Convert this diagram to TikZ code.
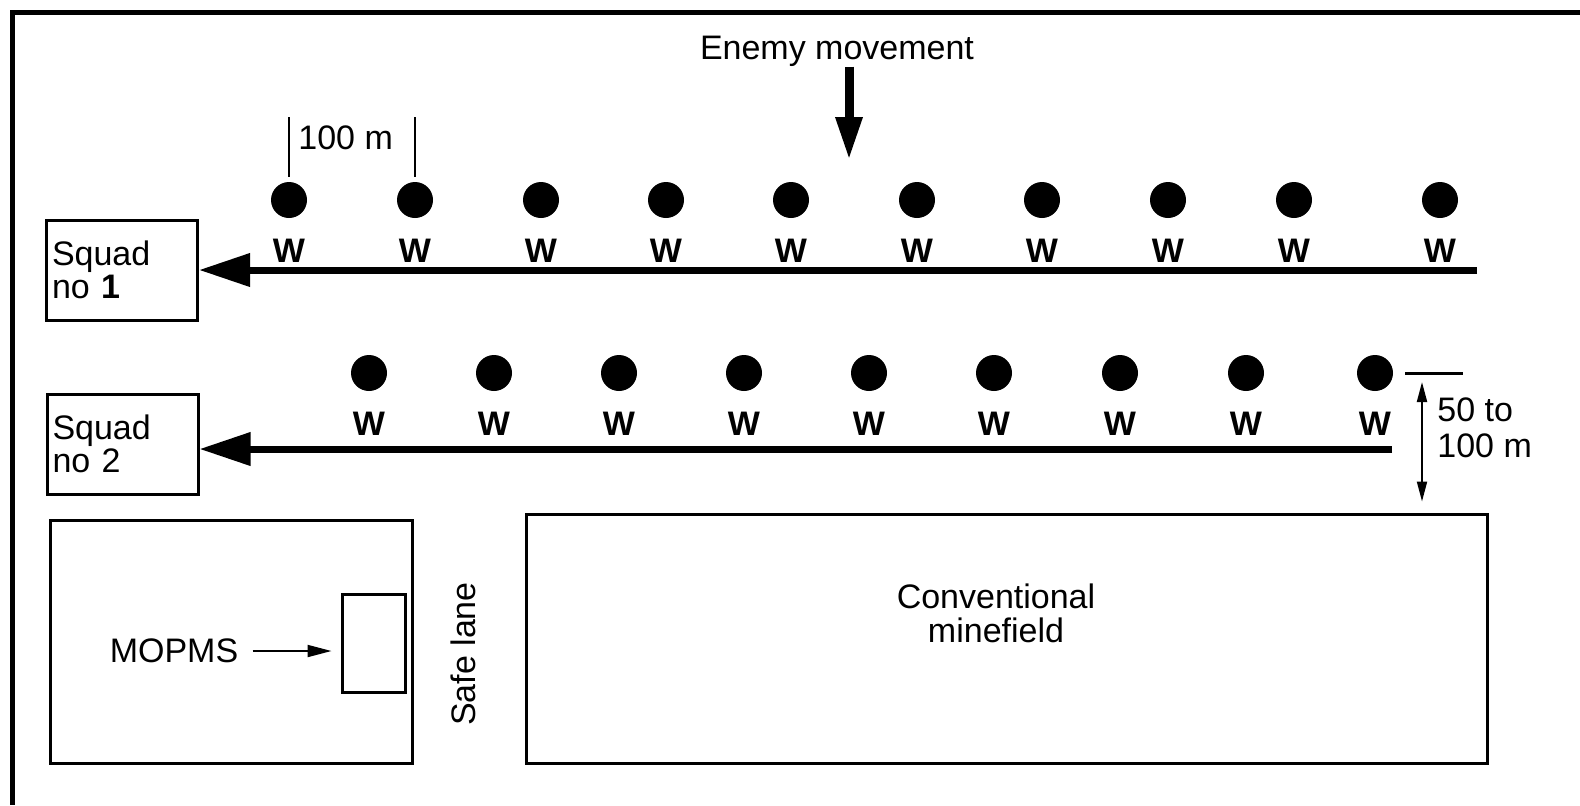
\documentclass[tikz,border=0pt]{standalone}
\usepackage{fontspec}
\setmainfont{Liberation Sans}
\usetikzlibrary{arrows.meta, positioning}

\begin{document}
\begin{tikzpicture}[x=0.5pt, y=-0.5pt,
  txt/.style={font=\fontsize{17}{17}\selectfont},
  squad/.style={
    draw, line width=1.5pt, minimum width=75.5pt, minimum height=50pt,
    text width=70pt, inner xsep=2.75pt, align=left, font=\fontsize{17}{16.5}\selectfont
  },
  area/.style={draw, line width=1.5pt, inner sep=0pt},
  soldier/.style={circle, fill, inner sep=0pt, minimum size=18pt},
  wlabel/.style={font=\fontsize{17}{17}\selectfont\bfseries, inner sep=0pt, label distance=10pt},
  flow/.style={-{Triangle[length=25.5pt,width=16pt]}, line width=3.5pt},
  push/.style={-{Triangle[length=21.5pt,width=12.5pt]}, line width=4.5pt},
  pointer/.style={-{Triangle[length=12pt,width=6pt]}, line width=1pt},
  span/.style={{Triangle[length=10pt,width=5pt]}-{Triangle[length=10pt,width=5pt]}, line width=1pt},
  tick/.style={line width=1pt}
]
\useasboundingbox (0,0) rectangle (1580,805);

% --- Frame (open to the right and bottom) ---
\draw[line width=2.5pt] (1580,12) -- (12,12) -- (12,805);

% --- Enemy movement ---
\node[txt, inner sep=0pt] (enemy) at (837,51) {Enemy movement};
\coordinate (front) at (849,160);
\draw[push] (enemy.south -| front) -- (front);

% --- Squads ---
\node[squad] (sq1) at (122,270) {Squad\\no \textbf{1}};
\node[squad] (sq2) at (122.5,444) {Squad\\no 2};

% --- First line of weapons ---
\node[soldier, label={[wlabel]below:W}] (a1) at (289,200) {};
\node[soldier, label={[wlabel]below:W}] (a2) at (415,200) {};
\node[soldier, label={[wlabel]below:W}] (a3) at (541,200) {};
\node[soldier, label={[wlabel]below:W}] (a4) at (666,200) {};
\node[soldier, label={[wlabel]below:W}] (a5) at (791,200) {};
\node[soldier, label={[wlabel]below:W}] (a6) at (917,200) {};
\node[soldier, label={[wlabel]below:W}] (a7) at (1042,200) {};
\node[soldier, label={[wlabel]below:W}] (a8) at (1168,200) {};
\node[soldier, label={[wlabel]below:W}] (a9) at (1294,200) {};
\node[soldier, label={[wlabel]below:W}] (a10) at (1440,200) {};

% --- 100 m spacing ---
\draw[tick] (289,117) -- (289,177);
\draw[tick] (415,117) -- (415,177);
\node[txt, inner sep=0pt, anchor=west] (spacing) at (298,138) {100 m};

% --- Second line of weapons ---
\node[soldier, label={[wlabel]below:W}] (b1) at (369,373) {};
\node[soldier, label={[wlabel]below:W}] (b2) at (494,373) {};
\node[soldier, label={[wlabel]below:W}] (b3) at (619,373) {};
\node[soldier, label={[wlabel]below:W}] (b4) at (744,373) {};
\node[soldier, label={[wlabel]below:W}] (b5) at (869,373) {};
\node[soldier, label={[wlabel]below:W}] (b6) at (994,373) {};
\node[soldier, label={[wlabel]below:W}] (b7) at (1120,373) {};
\node[soldier, label={[wlabel]below:W}] (b8) at (1246,373) {};
\node[soldier, label={[wlabel]below:W}] (b9) at (1375,373) {};

% --- Withdrawal lines ---
\coordinate (l1) at (1477,270);
\coordinate (l2) at (1392,449);
\draw[flow] (l1) -- (l1 -| sq1.east);
\draw[flow] (l2) -- (l2 -| sq2.east);

% --- Minefields ---
\node[area, minimum width=181pt, minimum height=121.5pt] (mopmsarea) at (231,641.5) {};
\node[area, minimum width=31.5pt, minimum height=49pt] (launcher) at (373.5,643) {};
\node[txt, inner xsep=7pt] (mopms) at (174,651) {MOPMS};
\draw[pointer, shorten >=4.5pt] (mopms.east) -- (mopms.east -| launcher.west);

\node[txt, rotate=90] (lane) at (463,654) {Safe lane};

\node[area, minimum width=480.5pt, minimum height=124.5pt] (mine) at (1006.5,638.5) {};
\node[txt, align=center, inner sep=0pt] (minelabel) at (996,613) {Conventional\\minefield};

% --- 50 to 100 m gap ---
\coordinate (gaptop) at (1422,373);
\draw[tick, line width=1.5pt] (1405,373) -- (1463,373);
\draw[span, shorten <=4.5pt, shorten >=5.5pt] (gaptop) -- (gaptop |- mine.north);
\node[inner sep=0pt, anchor=west, align=left, font=\fontsize{17}{18}\selectfont] (gap) at (1437,428) {50 to\\100 m};

\end{tikzpicture}
\end{document}
